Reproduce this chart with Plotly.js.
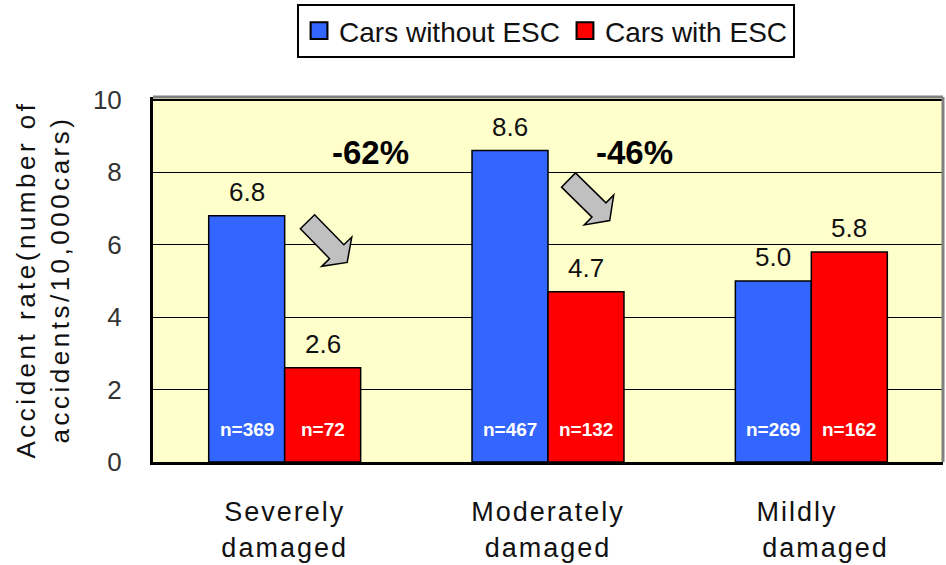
<!DOCTYPE html>
<html>
<head>
<meta charset="utf-8">
<script src="https://cdn.plot.ly/plotly-3.0.1.min.js"></script>
<style>
  html, body { margin: 0; padding: 0; background: #fff; }
  #chart { width: 946px; height: 565px; }
  .xtick text { letter-spacing: 2px; }
  .ytitle { letter-spacing: 3.5px; }
  .legendpoints path { transform: translate(20px, 0px) scale(1.4); }
</style>
</head>
<body>
<div id="chart"></div>
<script>
// ---- data ----
const categories = ["Severely<br>damaged", "Moderately<br>damaged", "Mildly\u00A0\u00A0\u00A0<br>\u00A0\u00A0\u00A0damaged"];
const seriesNames = ["Cars without ESC", "Cars with ESC"];
const withoutESC = [6.8, 8.6, 5.0];
const withESC = [2.6, 4.7, 5.8];
const nWithout = [369, 467, 269];
const nWith = [72, 132, 162];
const changeLabels = ["-62%", "-46%"];
const yTicks = [0, 2, 4, 6, 8, 10];

// ---- layout constants ----
const W = 946, H = 565;
const M = { l: 153, r: 3, t: 97, b: 103 };
const PW = W - M.l - M.r, PH = H - M.t - M.b;
const FONT = '"Liberation Sans", Arial, sans-serif';
const BLUE = '#3366FF', RED = '#FF0000';
const HALF = 38; // half group offset in px

function px2paper(x, y) { return [(x - M.l) / PW, (H - M.b - y) / PH]; }

function blockArrow(tail, base, tipLen, halfShaft, halfHead) {
  const dx = base[0] - tail[0], dy = base[1] - tail[1];
  const L = Math.hypot(dx, dy);
  const ux = dx / L, uy = dy / L, nx = -uy, ny = ux;
  const pts = [
    [tail[0] + nx * halfShaft, tail[1] + ny * halfShaft],
    [base[0] + nx * halfShaft, base[1] + ny * halfShaft],
    [base[0] + nx * halfHead, base[1] + ny * halfHead],
    [base[0] + ux * tipLen, base[1] + uy * tipLen],
    [base[0] - nx * halfHead, base[1] - ny * halfHead],
    [base[0] - nx * halfShaft, base[1] - ny * halfShaft],
    [tail[0] - nx * halfShaft, tail[1] - ny * halfShaft]
  ].map(p => px2paper(p[0], p[1]));
  return 'M' + pts.map(p => p[0].toFixed(4) + ',' + p[1].toFixed(4)).join('L') + 'Z';
}

const traces = [
  { type: 'bar', name: seriesNames[0], x: categories, y: withoutESC,
    marker: { color: BLUE, line: { color: '#000', width: 1.5 } }, hoverinfo: 'skip' },
  { type: 'bar', name: seriesNames[1], x: categories, y: withESC,
    marker: { color: RED, line: { color: '#000', width: 1.5 } }, hoverinfo: 'skip' }
];

const annotations = [];
categories.forEach((c, i) => {
  annotations.push({ x: c, y: withoutESC[i], xref: 'x', yref: 'y', xshift: -HALF, yshift: 7,
    yanchor: 'bottom', text: withoutESC[i].toFixed(1), showarrow: false,
    font: { family: FONT, size: 26, color: '#111' } });
  annotations.push({ x: c, y: withESC[i], xref: 'x', yref: 'y', xshift: HALF, yshift: 7,
    yanchor: 'bottom', text: withESC[i].toFixed(1), showarrow: false,
    font: { family: FONT, size: 26, color: '#111' } });
  annotations.push({ x: c, y: 0.9, xref: 'x', yref: 'y', xshift: -HALF,
    text: '<b>n=' + nWithout[i] + '</b>', showarrow: false,
    font: { family: FONT, size: 19, color: '#fff' } });
  annotations.push({ x: c, y: 0.9, xref: 'x', yref: 'y', xshift: HALF,
    text: '<b>n=' + nWith[i] + '</b>', showarrow: false,
    font: { family: FONT, size: 19, color: '#fff' } });
});
changeLabels.forEach((t, i) => {
  annotations.push({ x: categories[i], y: 8.56, xref: 'x', yref: 'y', xshift: 86,
    text: '<b>' + t + '</b>', showarrow: false,
    font: { family: FONT, size: 33, color: '#000' } });
});

const arrowStyle = { fillcolor: '#C0C0C0', line: { color: '#000', width: 1.5 } };
const shapes = [
  Object.assign({ type: 'path', xref: 'paper', yref: 'paper',
    path: blockArrow([307.5, 221.7], [336.7, 251.7], 15, 10, 21) }, arrowStyle),
  Object.assign({ type: 'path', xref: 'paper', yref: 'paper',
    path: blockArrow([568.5, 180], [599, 210], 15, 10, 21) }, arrowStyle),
  { type: 'line', xref: 'paper', yref: 'paper', x0: 0, x1: 1, y0: 1, y1: 1,
    line: { color: '#808080', width: 3 } },
  { type: 'line', xref: 'paper', yref: 'paper', x0: 1, x1: 1, y0: 0, y1: 1,
    line: { color: '#808080', width: 3 } }
];

const layout = {
  width: W, height: H,
  margin: M,
  paper_bgcolor: '#fff',
  plot_bgcolor: '#FFFFCC',
  font: { family: FONT, color: '#111' },
  barmode: 'group',
  bargap: 0.423,
  bargroupgap: 0,
  showlegend: true,
  legend: {
    orientation: 'h', x: 0.1823, xanchor: 'left', y: 1.255, yanchor: 'top',
    bordercolor: '#000', borderwidth: 2, bgcolor: '#fff',
    font: { family: FONT, size: 28, color: '#111' }, traceorder: 'normal'
  },
  xaxis: {
    type: 'category', showgrid: false, showline: true, linecolor: '#000', linewidth: 3,
    ticks: '', ticklabelstandoff: 24,
    tickfont: { family: FONT, size: 27, color: '#111' }, fixedrange: true
  },
  yaxis: {
    range: [0, 10.08], tickvals: yTicks, ticktext: yTicks.map(String),
    showgrid: true, gridcolor: '#000', gridwidth: 1.3,
    showline: true, linecolor: '#000', linewidth: 3, zeroline: false,
    ticks: '', ticklabelstandoff: 23,
    tickfont: { family: FONT, size: 26, color: '#333' },
    title: { text: 'Accident rate(number of<br>accidents/10,000cars)', standoff: 16,
      font: { family: FONT, size: 26, color: '#111' } },
    fixedrange: true
  },
  annotations: annotations,
  shapes: shapes
};

Plotly.newPlot('chart', traces, layout, { displayModeBar: false, staticPlot: true });
</script>
</body>
</html>
